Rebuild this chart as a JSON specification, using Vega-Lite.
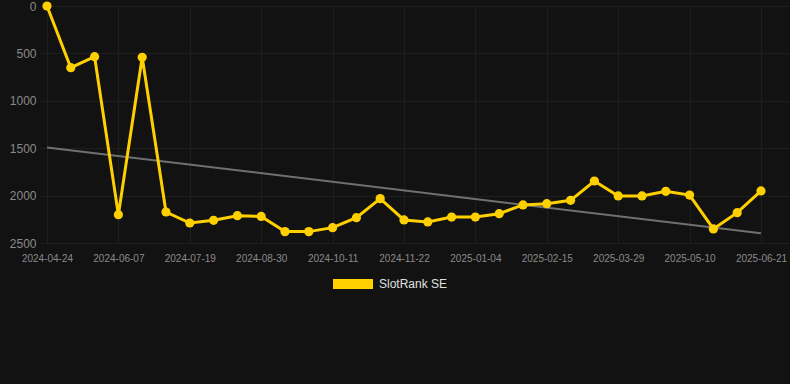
{
  "$schema": "https://vega.github.io/schema/vega-lite/v6.json",
  "width": 750,
  "height": 237,
  "autosize": {"type": "none"},
  "padding": {"left": 40, "top": 6, "right": 0, "bottom": 141},
  "background": "#121212",
  "config": {
    "view": {"stroke": null},
    "font": "Liberation Sans",
    "axis": {"domain": false, "ticks": false, "gridColor": "#1e1e1e", "gridWidth": 1, "labelColor": "#8a8a8a", "labelFont": "Liberation Sans"}
  },
  "datasets": {
    "rank": [
      {"date": "2024-04-24", "rank": 0},
      {"date": "2024-05-08", "rank": 651},
      {"date": "2024-05-22", "rank": 535},
      {"date": "2024-06-07", "rank": 2201},
      {"date": "2024-06-21", "rank": 541},
      {"date": "2024-07-05", "rank": 2173},
      {"date": "2024-07-19", "rank": 2289},
      {"date": "2024-08-02", "rank": 2261},
      {"date": "2024-08-16", "rank": 2212},
      {"date": "2024-08-30", "rank": 2220},
      {"date": "2024-09-13", "rank": 2380},
      {"date": "2024-09-27", "rank": 2380},
      {"date": "2024-10-11", "rank": 2338},
      {"date": "2024-10-25", "rank": 2233},
      {"date": "2024-11-08", "rank": 2032},
      {"date": "2024-11-22", "rank": 2257},
      {"date": "2024-12-06", "rank": 2278},
      {"date": "2024-12-20", "rank": 2226},
      {"date": "2025-01-04", "rank": 2226},
      {"date": "2025-01-18", "rank": 2191},
      {"date": "2025-02-01", "rank": 2098},
      {"date": "2025-02-15", "rank": 2085},
      {"date": "2025-03-01", "rank": 2050},
      {"date": "2025-03-15", "rank": 1846},
      {"date": "2025-03-29", "rank": 2004},
      {"date": "2025-04-12", "rank": 2004},
      {"date": "2025-04-26", "rank": 1955},
      {"date": "2025-05-10", "rank": 1994},
      {"date": "2025-05-24", "rank": 2352},
      {"date": "2025-06-07", "rank": 2180},
      {"date": "2025-06-21", "rank": 1951}
    ],
    "trend": [
      {"date": "2024-04-24", "rank": 1492},
      {"date": "2025-06-21", "rank": 2398}
    ]
  },
  "encoding": {
    "x": {
      "field": "date",
      "type": "ordinal",
      "scale": {"type": "point", "padding": 0.7563, "align": 0.194},
      "axis": {
        "title": null,
        "values": ["2024-04-24", "2024-06-07", "2024-07-19", "2024-08-30", "2024-10-11", "2024-11-22", "2025-01-04", "2025-02-15", "2025-03-29", "2025-05-10", "2025-06-21"],
        "labelAngle": 0,
        "labelFontSize": 10,
        "labelPadding": 10,
        "labelOverlap": false,
        "grid": true
      }
    },
    "y": {
      "field": "rank",
      "type": "quantitative",
      "scale": {"domain": [0, 2500], "reverse": true, "nice": false, "zero": false},
      "axis": {"title": null, "values": [0, 500, 1000, 1500, 2000, 2500], "format": "d", "labelFontSize": 12, "labelPadding": 4}
    }
  },
  "layer": [
    {
      "data": {"name": "trend"},
      "mark": {"type": "line", "color": "#707070", "strokeWidth": 2},
      "encoding": {}
    },
    {
      "data": {"name": "rank"},
      "mark": {"type": "line", "strokeWidth": 3},
      "encoding": {
        "color": {
          "datum": "SlotRank SE",
          "scale": {"range": ["#FFD000"]},
          "legend": {
            "title": null,
            "orient": "none",
            "legendX": 293,
            "legendY": 258,
            "symbolType": "M-1,-0.25H1V0.25H-1Z",
            "symbolSize": 1600,
            "symbolFillColor": "#FFD000",
            "symbolStrokeWidth": 0,
            "labelFontSize": 12,
            "labelColor": "#e0e0e0",
            "labelOffset": 6,
            "padding": 0
          }
        }
      }
    },
    {
      "data": {"name": "rank"},
      "mark": {"type": "circle", "size": 85, "color": "#FFD000", "opacity": 1},
      "encoding": {}
    }
  ]
}
